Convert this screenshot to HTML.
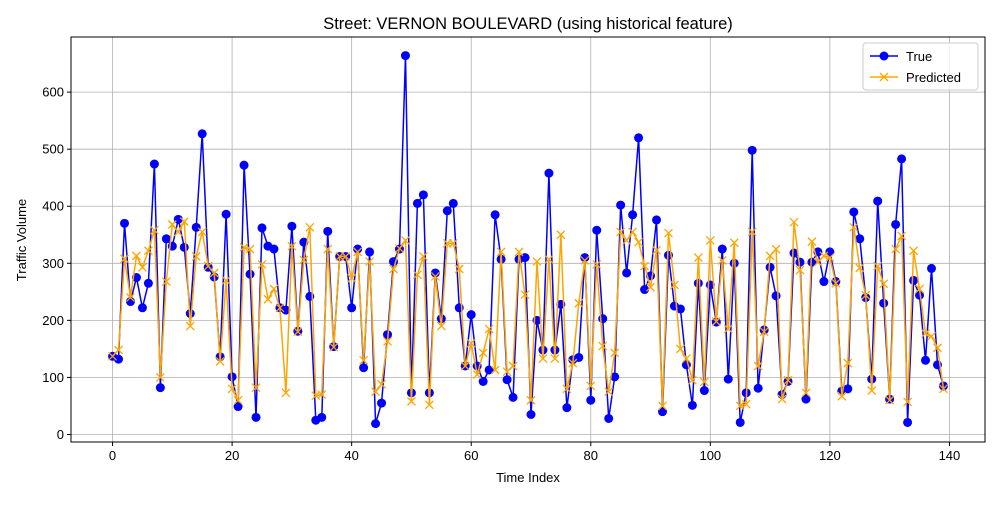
<!DOCTYPE html>
<html><head><meta charset="utf-8"><style>
body{margin:0;background:#fff;}
svg text{font-family:"Liberation Sans","DejaVu Sans",sans-serif;fill:#000;}
</style></head><body>
<svg id="chart" width="1000" height="500" xmlns="http://www.w3.org/2000/svg">
<rect width="1000" height="500" fill="#fff"/>
<text x="528" y="29" font-size="16.5" text-anchor="middle">Street: VERNON BOULEVARD (using historical feature)</text>
<g id="grid"></g>
<g id="axes"></g>
<g id="series"></g>
<rect x="71" y="37" width="914" height="405" fill="none" stroke="#000" stroke-width="1"/>
<text x="528" y="482" font-size="13" text-anchor="middle">Time Index</text>
<text x="26" y="240" font-size="13" text-anchor="middle" transform="rotate(-90 26 240)">Traffic Volume</text>
<g>
<rect x="863" y="43" width="115" height="47" fill="#fff" fill-opacity="0.8" stroke="#ccc" rx="3"/>
<g>
<line x1="870" y1="56" x2="898" y2="56" stroke="#0000ff" stroke-width="1.5"/>
<circle cx="884" cy="56" r="4.5" fill="#0000ff"/>
<text x="906" y="61" font-size="13">True</text>
</g>
<g>
<line x1="870" y1="77" x2="898" y2="77" stroke="#ffa500" stroke-width="1.5"/>
<path d="M880,73 L888,81 M880,81 L888,73" stroke="#ffa500" stroke-width="1.3"/>
<text x="906" y="82" font-size="13">Predicted</text>
</g>
</g>
</svg>
<script>
const trueValues=[137,132,370,233,275,222,265,474,82,343,330,377,328,212,363,527,293,276,136,386,101,49,472,281,30,362,330,325,222,218,365,181,337,242,25,30,356,154,312,312,222,325,117,320,19,55,175,303,325,664,73,405,420,73,283,203,392,405,222,120,210,120,93,113,385,307,96,65,307,310,35,200,148,458,148,228,47,131,135,310,60,358,203,28,101,402,283,385,520,254,278,376,40,314,225,220,122,51,265,77,262,197,325,97,300,21,73,498,81,183,293,243,70,93,318,302,62,302,320,268,320,268,76,80,390,343,240,97,409,230,62,368,483,21,270,244,130,291,122,85];
const predictedValues=[137,148,308,240,313,293,322,358,100,268,368,355,373,190,312,355,295,283,128,270,80,60,328,325,82,298,237,255,222,73,330,180,306,363,68,70,325,153,312,312,274,320,130,303,75,88,163,290,326,340,58,280,312,52,277,190,335,335,290,120,160,105,143,185,113,320,110,120,320,245,60,303,133,307,133,350,80,125,230,305,85,298,155,75,143,355,340,355,337,295,258,323,50,353,262,150,133,95,310,92,340,198,305,185,336,50,53,355,120,180,313,325,62,95,372,288,73,338,302,313,310,265,67,125,363,292,244,77,295,264,60,325,348,57,322,255,177,172,152,80];
const xTicks=[0,20,40,60,80,100,120,140];
const yTicks=[0,100,200,300,400,500,600];
const NS="http://www.w3.org/2000/svg";
const L=71,R=985,T=37,B=442,xMin=-6.95,xMax=145.95,yMin=-13.2,yMax=696.6;
function xs(v){return L+(v-xMin)/(xMax-xMin)*(R-L);}
function ys(v){return B-(v-yMin)/(yMax-yMin)*(B-T);}
function mk(tag,attrs,parent){const e=document.createElementNS(NS,tag);for(const k in attrs)e.setAttribute(k,attrs[k]);parent.appendChild(e);return e;}
const grid=document.getElementById('grid'),axes=document.getElementById('axes'),ser=document.getElementById('series');
xTicks.forEach(t=>{const x=xs(t);
const g=mk('line',{x1:x,x2:x,y1:T,y2:B,stroke:'#b0b0b0','stroke-width':0.8},grid);


const tk=mk('line',{x1:x,x2:x,y1:B,y2:B+4,stroke:'#000'},axes);


const tx=mk('text',{x:x,y:B+18,'font-size':13,'text-anchor':'middle'},axes);tx.textContent=t;


});
yTicks.forEach(t=>{const y=ys(t);
const g=mk('line',{x1:L,x2:R,y1:y,y2:y,stroke:'#b0b0b0','stroke-width':0.8},grid);


const tk=mk('line',{x1:L-4,x2:L,y1:y,y2:y,stroke:'#000'},axes);


const tx=mk('text',{x:L-7,y:y+4.5,'font-size':13,'text-anchor':'end'},axes);tx.textContent=t;


});
function pts(a){return a.map((v,i)=>xs(i).toFixed(1)+','+ys(v).toFixed(1)).join(' ');}
const lt=mk('polyline',{points:pts(trueValues),fill:'none',stroke:'#0000ff','stroke-width':1.5},ser);


trueValues.forEach((v,i)=>{const c=mk('circle',{cx:xs(i),cy:ys(v),r:4.5,fill:'#0000ff'},ser);

});
const lp=mk('polyline',{points:pts(predictedValues),fill:'none',stroke:'#ffa500','stroke-width':1.5},ser);


predictedValues.forEach((v,i)=>{const x=xs(i),y=ys(v);
const p=mk('path',{d:`M${x-4},${y-4}L${x+4},${y+4}M${x-4},${y+4}L${x+4},${y-4}`,stroke:'#ffa500','stroke-width':1.3},ser);

});
</script>
</body></html>
